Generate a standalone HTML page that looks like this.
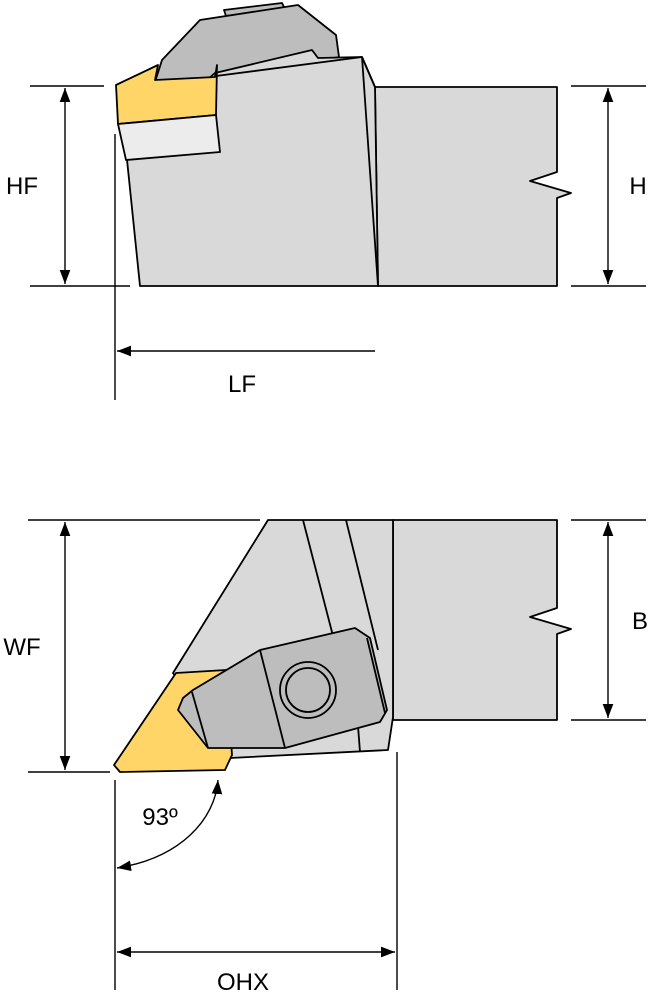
<!DOCTYPE html>
<html><head><style>body{margin:0;background:#fff}svg{display:block}</style></head><body>
<svg width="652" height="1000" viewBox="0 0 652 1000" xmlns="http://www.w3.org/2000/svg" font-family="Liberation Sans, Arial, sans-serif">
<defs>
<marker id="a" viewBox="0 0 10 10" refX="10" refY="5" markerWidth="14" markerHeight="14" markerUnits="userSpaceOnUse" orient="auto-start-reverse"><path d="M0,1.2 L10,5 L0,8.8z" fill="#000"/></marker>
</defs>
<g stroke="#000" stroke-width="1.8" stroke-linejoin="round">
<polygon points="224,10 282,3 285,9 226,16" fill="#bdbdbd"/>
<polygon points="155,82 162,60 200,20 298,5 336,35 339,57 220,80" fill="#bdbdbd"/>
<polygon points="375,87 557,87 557,172 530,181 571,193 557,198 557,286 378,286" fill="#d9d9d9"/>
<polygon points="215,73 312,50 318,58 362,57 375,87 378,286 140,286 126,150" fill="#d9d9d9"/>
<polyline points="216,76 362,57 375,87" fill="none"/>
<line x1="362" y1="57" x2="378" y2="286"/>
<polygon points="116,85 158,65 155,80 215,77 217,65 216,115 118,124" fill="#fed566"/>
<polygon points="118,124 216,115 220,152 126,160" fill="#ececec"/>
</g>
<g stroke="#000" stroke-width="1.4" fill="none">
<line x1="30" y1="86" x2="104" y2="86"/><line x1="30" y1="286" x2="130" y2="286"/>
<line x1="65" y1="88" x2="65" y2="284" marker-start="url(#a)" marker-end="url(#a)"/>
<line x1="571" y1="86" x2="646" y2="86"/><line x1="571" y1="286" x2="646" y2="286"/>
<line x1="608" y1="88" x2="608" y2="284" marker-start="url(#a)" marker-end="url(#a)"/>
<line x1="115" y1="134" x2="115" y2="400"/>
<line x1="117" y1="351" x2="375" y2="351" marker-start="url(#a)"/>
</g>
<text x="22" y="194" font-size="24" text-anchor="middle">HF</text>
<text x="638" y="194" font-size="24" text-anchor="middle">H</text>
<text x="242" y="392" font-size="24" text-anchor="middle">LF</text>
<g stroke="#000" stroke-width="1.8" stroke-linejoin="round">
<polygon points="393,520 557,520 557,608 530,617 571,629 557,634 557,720 393,720" fill="#d9d9d9"/>
<polygon points="268,520 393,520 393,717 388,750 230,758 173,673" fill="#d9d9d9"/>
<line x1="303" y1="520" x2="333" y2="636"/>
<line x1="346" y1="520" x2="378" y2="650"/>
<line x1="356" y1="700" x2="360" y2="752"/>
<polygon points="176,673 226,670 232,755 225,770 120,772 114,765" fill="#fed566"/>
<polygon points="193,690 260,650 355,628 370,638 387,710 380,722 285,748 208,748 178,710 183,698" fill="#bdbdbd"/>
<line x1="260" y1="650" x2="285" y2="748"/>
<line x1="192" y1="692" x2="208" y2="748"/>
<line x1="367" y1="638" x2="385" y2="713"/>
<circle cx="308" cy="690" r="28" fill="none"/>
<circle cx="308" cy="690" r="22" fill="none"/>
</g>
<g stroke="#000" stroke-width="1.4" fill="none">
<line x1="28" y1="520" x2="260" y2="520"/><line x1="28" y1="772" x2="110" y2="772"/>
<line x1="65" y1="522" x2="65" y2="770" marker-start="url(#a)" marker-end="url(#a)"/>
<line x1="571" y1="520" x2="646" y2="520"/><line x1="571" y1="720" x2="646" y2="720"/>
<line x1="608" y1="522" x2="608" y2="718" marker-start="url(#a)" marker-end="url(#a)"/>
<line x1="115" y1="780" x2="115" y2="990"/>
<line x1="397" y1="752" x2="397" y2="990"/>
<line x1="117" y1="952" x2="395" y2="952" marker-start="url(#a)" marker-end="url(#a)"/>
<path d="M117,868 C180,858 215,820 218,780" marker-start="url(#a)" marker-end="url(#a)"/>
</g>
<text x="22" y="655" font-size="24" text-anchor="middle">WF</text>
<text x="640" y="629" font-size="24" text-anchor="middle">B</text>
<text x="160" y="825" font-size="24" text-anchor="middle">93º</text>
<text x="243" y="990" font-size="24" text-anchor="middle">OHX</text>
</svg>
</body></html>
